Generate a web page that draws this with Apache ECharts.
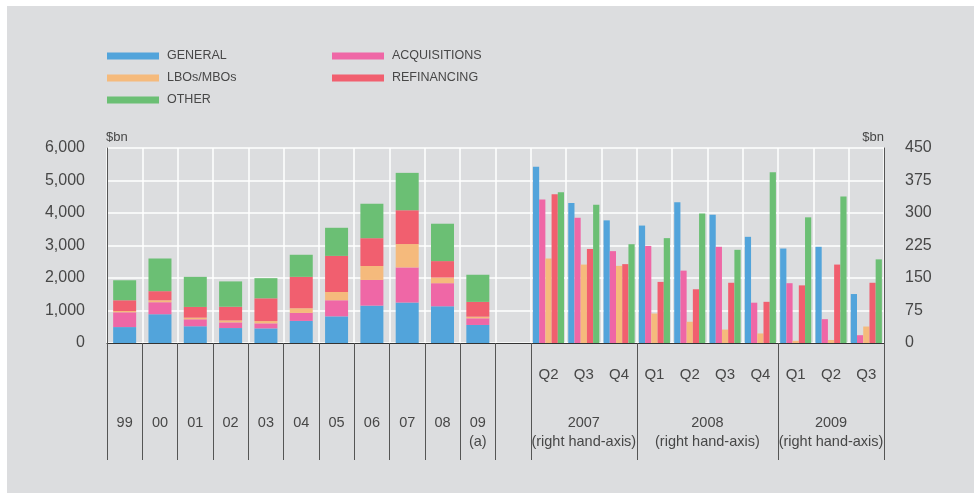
<!DOCTYPE html>
<html>
<head>
<meta charset="utf-8">
<script src="https://cdn.jsdelivr.net/npm/echarts@6/dist/echarts.min.js"></script>
<style>
  html, body { margin: 0; padding: 0; background: #fff; }
  #chart { position: absolute; left: 7px; top: 6px; width: 967px; height: 487px; }
</style>
</head>
<body>
<div id="chart"></div>
<script>
// 年度数据 (左轴, $bn)
var years = ['99', '00', '01', '02', '03', '04', '05', '06', '07', '08', '09'];
var general = [490, 885, 515, 460, 450, 680, 820, 1150, 1245, 1130, 555];
var acquisitions = [455, 370, 215, 175, 155, 245, 495, 790, 1080, 710, 205];
var lbos = [40, 60, 50, 60, 70, 145, 255, 430, 720, 175, 50];
var refinancing = [330, 280, 330, 420, 700, 965, 1110, 855, 1040, 505, 455];
var other = [615, 1005, 925, 780, 620, 680, 865, 1060, 1150, 1150, 835];

// 季度数据 (右轴, $bn)
var quarters = ['2007 Q2', '2007 Q3', '2007 Q4', '2008 Q1', '2008 Q2', '2008 Q3', '2008 Q4', '2009 Q1', '2009 Q2', '2009 Q3'];
var qGeneral = [407, 323, 283, 271, 325, 296, 245, 218, 222, 113];
var qAcquisitions = [331, 289, 212, 224, 167, 222, 93, 138, 55, 18];
var qLbos = [195, 181, 178, 68, 49, 31, 22, 5, 7, 38];
var qRefinancing = [343, 217, 182, 141, 124, 139, 95, 133, 181, 139];
var qOther = [348, 319, 228, 242, 299, 215, 394, 290, 338, 193];

var names = ['GENERAL', 'ACQUISITIONS', 'LBOs/MBOs', 'REFINANCING', 'OTHER'];
var colors = ['#52a4db', '#ef67a6', '#f5ba7c', '#f15f6f', '#6bbf74'];

var leftTicks = [0, 1000, 2000, 3000, 4000, 5000, 6000];
var rightTicks = [0, 75, 150, 225, 300, 375, 450];

var font = "'Liberation Sans', Arial, sans-serif";
var textColor = '#474747';

// 坐标轴类别: 年份 + 空列 + 季度
var cats = years.concat(['gap']).concat(quarters);
var nYears = years.length;
var nQ = quarters.length;

function padYears(arr) {
  var out = arr.slice();
  for (var i = 0; i <= nQ; i++) out.push('-');
  return out;
}
function padQuarters(arr) {
  var out = [];
  for (var i = 0; i <= nYears; i++) out.push('-');
  return out.concat(arr);
}

var yearSets = [general, acquisitions, lbos, refinancing, other];
var qSets = [qGeneral, qAcquisitions, qLbos, qRefinancing, qOther];

var series = [];
names.forEach(function (n, i) {
  series.push({
    name: n, type: 'bar', stack: 'years', xAxisIndex: 0, yAxisIndex: 0,
    barWidth: 23, itemStyle: {color: colors[i]}, data: padYears(yearSets[i])
  });
});
names.forEach(function (n, i) {
  series.push({
    name: n, type: 'bar', xAxisIndex: 1, yAxisIndex: 1,
    barCategoryGap: '12%', barGap: '0%', itemStyle: {color: colors[i]}, data: padQuarters(qSets[i])
  });
});

var myChart = echarts.init(document.getElementById('chart'));

option = {
  backgroundColor: '#dcdddf',
  animation: false,
  textStyle: {fontFamily: font},
  legend: [{
    data: ['GENERAL', 'LBOs/MBOs', 'OTHER'],
    orient: 'vertical', left: 100, top: 43, padding: 0,
    itemWidth: 52, itemHeight: 7, itemGap: 8, icon: 'rect',
    textStyle: {fontSize: 12.5, color: textColor, fontFamily: font, lineHeight: 14, padding: [0, 0, 0, 3]}
  }, {
    data: ['ACQUISITIONS', 'REFINANCING'],
    orient: 'vertical', left: 325, top: 43, padding: 0,
    itemWidth: 52, itemHeight: 7, itemGap: 8, icon: 'rect',
    textStyle: {fontSize: 12.5, color: textColor, fontFamily: font, lineHeight: 14, padding: [0, 0, 0, 3]}
  }],
  grid: {left: 100, right: 90, top: 142, bottom: 150},
  xAxis: [{
    type: 'category',
    data: cats,
    axisLine: {lineStyle: {color: '#333', width: 1}},
    axisTick: {
      show: true, length: 117, lineStyle: {color: '#555'},
      interval: function (idx) { return idx <= nYears + 1 || idx === nYears + 4 || idx === nYears + 8; }
    },
    splitLine: {show: true, interval: 0, lineStyle: {color: '#fff', width: 1.5}},
    axisLabel: {
      interval: 0, margin: 24, color: textColor, fontFamily: font,
      formatter: function (v, idx) {
        if (v === 'gap') return '';
        if (idx < nYears) {
          var s = '{sp| }\n{y|' + v + '}';
          if (v === '09') s += '\n{a|(a)}';
          return s;
        }
        return '{q|' + v.split(' ')[1] + '}';
      },
      rich: {
        sp: {fontSize: 14.5, lineHeight: 47},
        y: {fontSize: 14.5, lineHeight: 18, color: textColor, fontFamily: font},
        a: {fontSize: 14.5, lineHeight: 20, color: textColor, fontFamily: font},
        q: {fontSize: 15, lineHeight: 16, color: textColor, fontFamily: font}
      }
    }
  }, {
    type: 'category',
    data: cats,
    show: false
  }],
  yAxis: [{
    type: 'value', min: 0, max: 6000, interval: 1000,
    name: '$bn', nameLocation: 'end', nameGap: 11,
    nameTextStyle: {align: 'left', verticalAlign: 'middle', fontSize: 13, color: textColor, fontFamily: font, padding: [0, 0, 0, -1]},
    axisLine: {show: true, lineStyle: {color: '#555'}},
    axisTick: {show: false},
    splitLine: {show: true, lineStyle: {color: '#fff', width: 1.5}},
    axisLabel: {
      margin: 22, fontSize: 16, color: textColor, fontFamily: font,
      formatter: function (v) { return leftTicks.indexOf(v) >= 0 ? v.toString().replace(/\B(?=(\d{3})+(?!\d))/g, ',') : ''; }
    }
  }, {
    type: 'value', min: 0, max: 450, interval: 75, position: 'right',
    name: '$bn', nameLocation: 'end', nameGap: 11,
    nameTextStyle: {align: 'right', verticalAlign: 'middle', fontSize: 13, color: textColor, fontFamily: font},
    axisLine: {show: true, lineStyle: {color: '#555'}},
    axisTick: {show: false},
    splitLine: {show: false},
    axisLabel: {
      margin: 21, fontSize: 16, color: textColor, fontFamily: font,
      formatter: function (v) { return rightTicks.indexOf(v) >= 0 ? String(v) : ''; }
    }
  }],
  series: series
};
myChart.setOption(option);

// 年份分组标签 (右轴)
var groups = [
  {text: '2007\n(right hand-axis)', from: nYears + 1, to: nYears + 3},
  {text: '2008\n(right hand-axis)', from: nYears + 4, to: nYears + 7},
  {text: '2009\n(right hand-axis)', from: nYears + 8, to: nYears + 10}
];
var graphics = groups.map(function (g) {
  var x1 = myChart.convertToPixel({xAxisIndex: 0}, cats[g.from]);
  var x2 = myChart.convertToPixel({xAxisIndex: 0}, cats[g.to]);
  return {
    type: 'text',
    x: (x1 + x2) / 2,
    y: 407.5,
    style: {
      text: g.text, textAlign: 'center', textVerticalAlign: 'top',
      fontSize: 14.5, lineHeight: 19, fill: textColor, fontFamily: font
    }
  };
});
myChart.setOption({graphic: graphics});
</script>
</body>
</html>
